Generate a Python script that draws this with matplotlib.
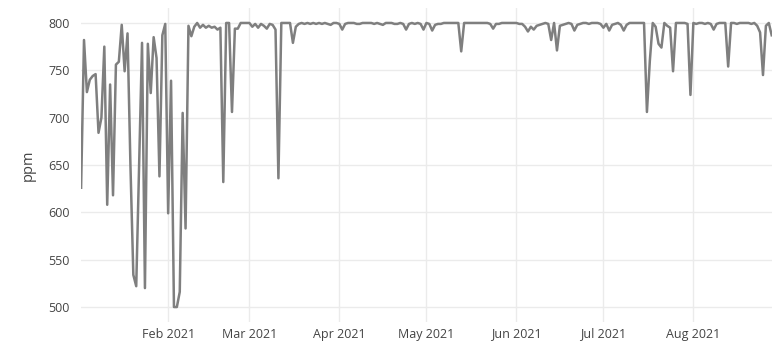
import numpy as np
import pandas as pd
import matplotlib
matplotlib.use("Agg")
import matplotlib.pyplot as plt
import matplotlib.dates as mdates

# daily readings, 2021-01-02 .. 2021-08-28
start_date = "2021-01-02"
ppm = [
    626, 782, 727, 740, 744, 746, 684, 700, 775, 608,
    735, 618, 756, 759, 798, 749, 789, 650, 534, 522,
    650, 779, 520, 778, 726, 785, 763, 638, 787, 799,
    599, 739, 500, 500, 516, 705, 583, 797, 786, 796,
    800, 795, 798, 795, 797, 795, 796, 793, 795, 632,
    800, 800, 706, 794, 794, 800, 800, 800, 800, 796,
    799, 795, 799, 797, 794, 799, 798, 793, 636, 800,
    800, 800, 800, 779, 796, 799, 800, 799, 800, 799,
    800, 799, 800, 799, 800, 799, 798, 800, 800, 799,
    793, 799, 800, 800, 800, 799, 799, 800, 800, 800,
    800, 799, 800, 799, 798, 800, 800, 800, 799, 799,
    800, 799, 793, 799, 800, 799, 800, 799, 793, 800,
    799, 792, 798, 799, 799, 800, 800, 800, 800, 800,
    800, 770, 800, 800, 800, 800, 800, 800, 800, 800,
    800, 799, 794, 799, 799, 800, 800, 800, 800, 800,
    800, 799, 799, 796, 791, 796, 793, 797, 798, 799,
    800, 799, 782, 800, 771, 797, 798, 799, 800, 799,
    792, 798, 799, 800, 800, 799, 800, 800, 800, 799,
    795, 799, 792, 798, 799, 800, 798, 792, 798, 800,
    800, 800, 800, 800, 800, 706, 760, 800, 796, 778,
    774, 800, 797, 795, 749, 800, 800, 800, 800, 799,
    724, 800, 799, 800, 800, 799, 800, 799, 793, 799,
    800, 800, 800, 754, 800, 800, 799, 800, 800, 800,
    800, 799, 800, 797, 790, 745, 797, 800, 787,
]
dates = pd.date_range(start_date, periods=len(ppm), freq="D")
yticks = [500, 550, 600, 650, 700, 750, 800]

plt.rcParams['font.family'] = ['Open Sans', 'DejaVu Sans']

fig = plt.figure(figsize=(7.82, 3.47), dpi=100)
ax = fig.add_axes([81.1 / 782, 25 / 347, (771.7 - 81.1) / 782, 314 / 347])

ax.plot(dates, ppm, color="#7f7f7f", linewidth=1.8, solid_joinstyle="round")

ax.set_xlim(dates[0], dates[-1])
ax.set_ylim(484.2, 815.8)
ax.set_yticks(yticks)

ax.xaxis.set_major_locator(mdates.MonthLocator(bymonth=range(2, 9)))
ax.xaxis.set_major_formatter(mdates.DateFormatter("%b %Y"))

for s in ax.spines.values():
    s.set_visible(False)
ax.grid(True, color="#ebebeb", linewidth=1)
ax.set_axisbelow(True)
ax.tick_params(length=0, labelsize=9, labelcolor="#444444")
ax.tick_params(axis="y", pad=8)
ax.tick_params(axis="x", pad=4)

ax.set_ylabel("ppm", fontsize=10.5, color="#444444")
ax.yaxis.set_label_coords(-0.066, 0.5)

plt.savefig("out.png", dpi=100)
